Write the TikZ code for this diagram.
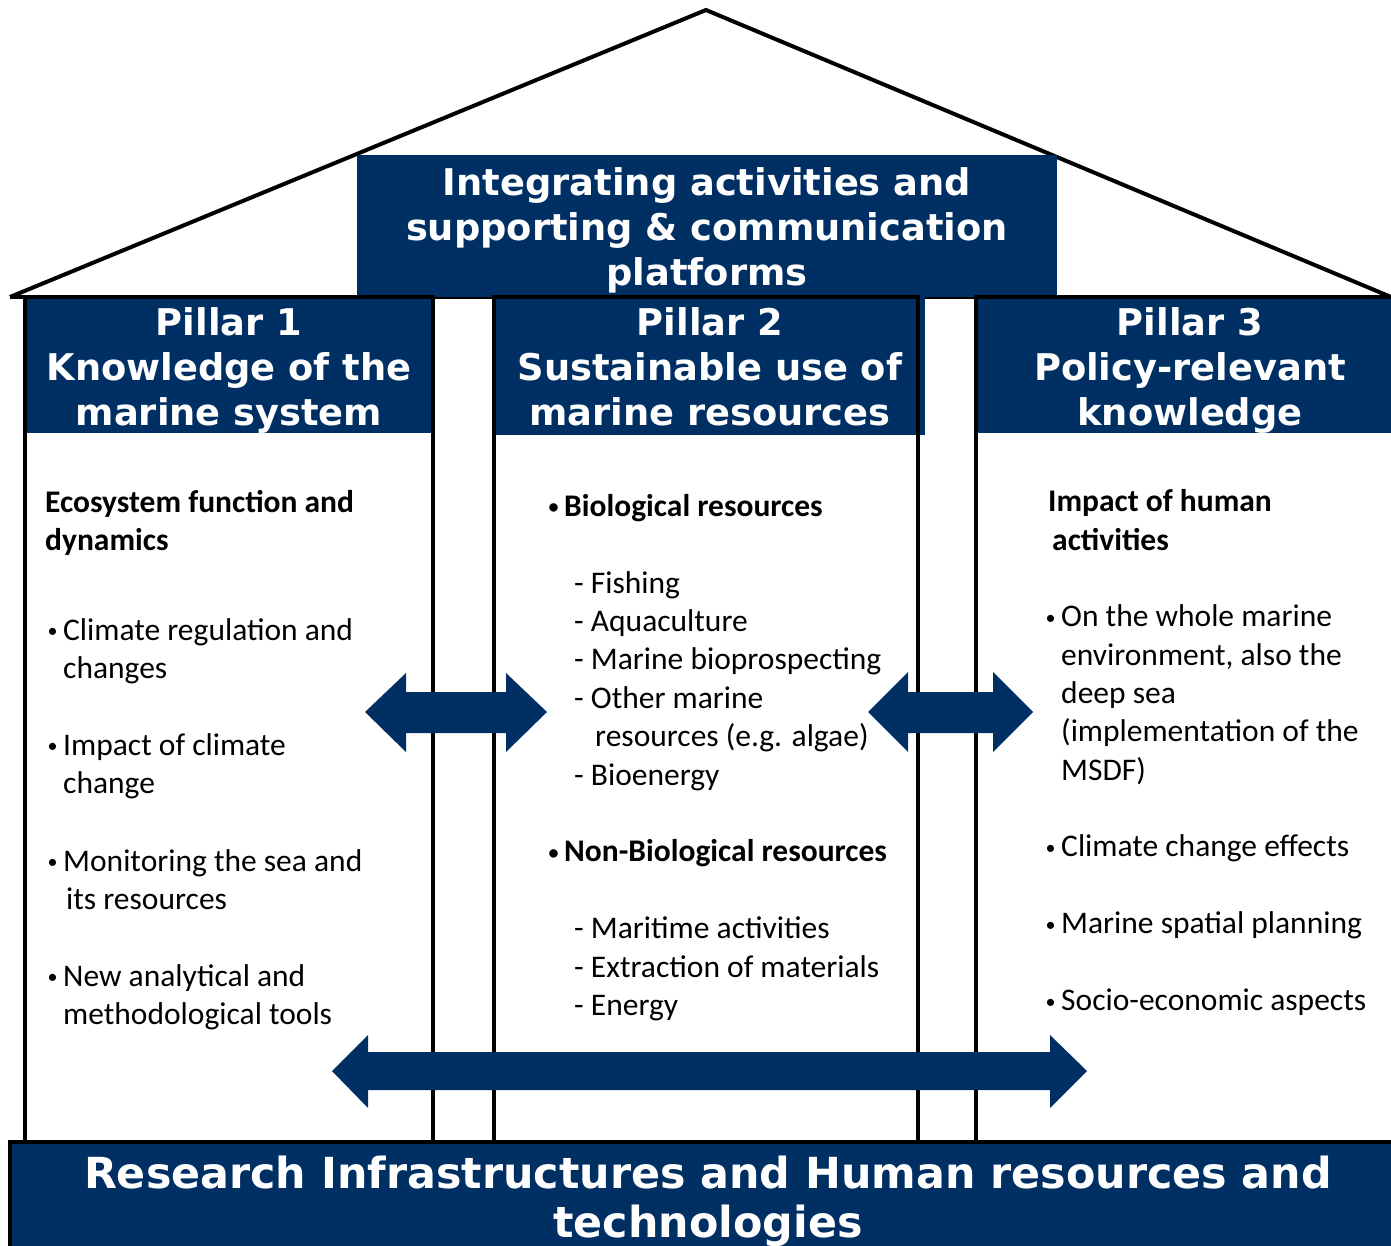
\documentclass[tikz,border=0pt]{standalone}
\usepackage{fontspec}
\setmainfont{Carlito}
\newfontfamily\hdrfont{DejaVu Sans}
\definecolor{navy}{RGB}{0,48,99}
\tikzset{
  body/.style={anchor=north west, inner sep=0pt, align=left, font=\fontsize{31.5}{38.4}\selectfont},
  bhead/.style={body, font=\bfseries\fontsize{31.5}{38.4}\selectfont},
  head/.style={anchor=north, inner sep=0pt, align=center, text=white, font=\hdrfont\bfseries\fontsize{36.8}{45}\selectfont},
  wall/.style={draw=black, line width=4pt},
}
\newcommand{\bul}{\makebox[17pt][l]{\hspace{1.5pt}\raisebox{2.5pt}{\fontsize{20}{20}\selectfont •}}}

\begin{document}
\begin{tikzpicture}[x=1pt,y=-1pt]
\useasboundingbox (0,0) rectangle (1391,1246);

% roof
\path[draw,line width=4pt] (10,297) -- (706,10) -- (1391,297);
\path[draw,line width=4pt] (10,297) -- (1391,297);
\path[fill=navy] (357,155) rectangle (1057,297);

% pillars
\path[fill=navy] (25,297) rectangle (433,433);
\path[fill=navy] (494,297) rectangle (925,435);
\path[fill=navy] (976,297) rectangle (1391,433);
\path[wall] (25,297) rectangle (433,1142);
\path[wall] (494,297) rectangle (918,1142);
\path[wall] (976,297) rectangle (1400,1142);

% base
\path[fill=navy,wall] (10,1142) rectangle (1400,1262);

% arrows
\path[fill=navy] (365,712) -- (406,673) -- (406,692) -- (506,692) -- (506,673) -- (547,712)
  -- (506,752) -- (506,733) -- (406,733) -- (406,752) -- cycle;
\path[fill=navy] (868,712) -- (908,672) -- (908,692) -- (993,692) -- (993,672) -- (1033,712)
  -- (993,752) -- (993,733) -- (908,733) -- (908,752) -- cycle;
\path[fill=navy] (332,1071) -- (368,1035) -- (368,1052) -- (1050,1052) -- (1050,1035) -- (1087,1071)
  -- (1050,1108) -- (1050,1090) -- (368,1090) -- (368,1108) -- cycle;

% headers
\node[head] (top) at (707,163.5) {\strut Integrating activities and\\supporting \& communication\\platforms};
\node[head] (h1) at (229,303.5) {\strut Pillar 1\\Knowledge of the\\marine system};
\node[head] (h2) at (710,303.5) {\strut Pillar 2\\Sustainable use of\\marine resources};
\node[head] (h3) at (1190,303.5) {\strut Pillar 3\\Policy-relevant\\knowledge};
\node[head,font=\hdrfont\bfseries\fontsize{42.8}{49}\selectfont] (base) at (708,1153.7)
  {\strut Research Infrastructures and Human resources and\\technologies};

% pillar 1
\node[bhead] (e1) at (45,485) {\strut Ecosystem function and\\dynamics};
\node[body] (e2) at (46,613) {\strut\bul Climate regulation and\\\hspace*{17pt}changes};
\node[body] (e3) at (46,728) {\strut\bul Impact of climate\\\hspace*{17pt}change};
\node[body] (e4) at (46,844) {\strut\bul Monitoring the sea and\\\hspace*{20pt}its resources};
\node[body] (e5) at (46,959) {\strut\bul New analytical and\\\hspace*{17pt}methodological tools};

% pillar 2
\node[bhead] (r1) at (547,489) {\strut\bul Biological resources};
\node[body] (r2) at (574,566) {\strut - Fishing\\- Aquaculture\\- Marine bioprospecting\\- Other marine\\\hspace*{21pt}resources (e.g. algae)\\- Bioenergy};
\node[bhead] (r3) at (547,834.6) {\strut\bul Non-Biological resources};
\node[body] (r4) at (574,911.6) {\strut - Maritime activities\\- Extraction of materials\\- Energy};

% pillar 3
\node[bhead] (k1) at (1048,484.6) {\strut Impact of human\\\hspace*{4pt}activities};
\node[body] (k2) at (1044,599.6) {\strut\bul On the whole marine\\\hspace*{17pt}environment, also the\\\hspace*{17pt}deep sea\\\hspace*{17pt}(implementation of the\\\hspace*{17pt}MSDF)};
\node[body] (k3) at (1044,829.6) {\strut\bul Climate change effects};
\node[body] (k4) at (1044,906.6) {\strut\bul Marine spatial planning};
\node[body] (k5) at (1044,983.6) {\strut\bul Socio-economic aspects};
\end{tikzpicture}
\end{document}
